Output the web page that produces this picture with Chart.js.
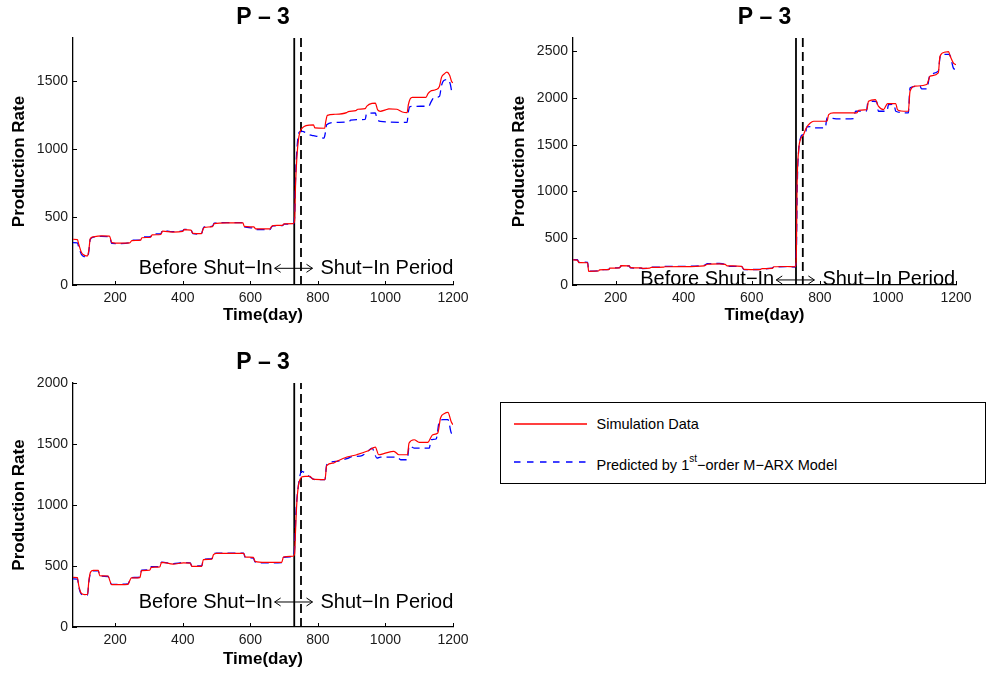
<!DOCTYPE html>
<html><head><meta charset="utf-8">
<script src="https://cdn.jsdelivr.net/npm/chart.js@4.4.0/dist/chart.umd.min.js"></script>
<style>
html,body{margin:0;padding:0;background:#fff;width:987px;height:673px;overflow:hidden;font-family:'Liberation Sans',Arial,Helvetica,sans-serif;}
canvas{position:absolute;}
#legend{position:absolute;left:500px;top:402px;width:486px;height:82px;box-sizing:border-box;border:1.5px solid #000;background:#fff;}
#legend canvas{position:absolute;left:13px;top:0;}
#legend .tx{position:absolute;left:95.5px;height:20px;line-height:20px;font-size:14.5px;color:#000;white-space:nowrap;}
#legend sup{font-size:10px;position:relative;top:-2px;}
</style></head>
<body>
<canvas id="c1" width="480" height="336" style="left:0;top:0"></canvas>
<canvas id="c2" width="497" height="336" style="left:490px;top:0"></canvas>
<canvas id="c3" width="480" height="333" style="left:0;top:340px"></canvas>
<div id="legend">
  <canvas id="lg" width="76" height="78"></canvas>
  <div class="tx" style="top:10.5px">Simulation Data</div>
  <div class="tx" style="top:48px">Predicted by 1<sup>st</sup>−order M−ARX Model</div>
</div>
<script>
// ---------- data ----------
const xTicks = [200, 400, 600, 800, 1000, 1200];
const shutInDay = 730;
const predStartDay = 750;

// Panel 1
const p1YTicks = [0, 500, 1000, 1500];
const p1SimDays = [75,88,92,100,110,118,122,126,135,160,183,190,215,243,249,275,279,305,309,335,340,370,400,404,424,430,455,460,464,488,493,530,578,582,610,616,658,663,668,695,700,727,731,734,738,743,748,755,765,787,791,820,823,828,850,885,890,912,918,940,945,960,970,977,985,1000,1010,1034,1050,1064,1068,1073,1080,1120,1126,1133,1150,1160,1166,1174,1182,1190,1196,1200];
const p1SimRate = [337,335,300,240,218,214,260,340,355,362,360,312,308,310,327,330,348,352,369,372,397,390,395,408,405,380,378,410,425,430,452,458,458,432,428,414,414,432,438,440,450,452,470,750,948,1080,1135,1160,1174,1180,1158,1155,1200,1250,1258,1270,1278,1285,1295,1300,1318,1338,1340,1290,1280,1290,1298,1295,1275,1270,1330,1370,1383,1383,1410,1428,1440,1465,1530,1555,1568,1545,1500,1490];
const p1PredDays = [75,88,92,100,110,118,122,126,135,160,183,190,215,243,249,275,279,305,309,335,340,370,400,404,424,430,455,460,464,488,493,530,578,582,610,616,658,663,668,695,700,727,731,734,738,743,748,755,762,770,787,800,818,822,826,850,880,893,897,915,940,944,970,975,985,1064,1068,1073,1128,1135,1143,1160,1166,1172,1185,1192,1196,1200];
const p1PredRate = [312,310,280,225,208,205,250,335,352,358,356,306,305,312,330,333,352,357,375,378,402,393,398,410,407,378,375,415,428,433,455,460,460,428,420,408,408,428,436,438,448,448,500,800,1000,1118,1130,1132,1125,1112,1100,1095,1082,1120,1180,1198,1200,1205,1215,1218,1220,1262,1268,1225,1205,1198,1280,1315,1318,1350,1378,1390,1470,1505,1514,1480,1430,1416];

// Panel 2
const p2YTicks = [0, 500, 1000, 1500, 2000, 2500];
const p2SimDays = [75,88,92,118,121,150,153,180,184,212,216,240,244,275,280,300,305,340,345,400,460,470,505,522,528,570,577,625,630,660,665,700,727,731,733,738,743,752,760,772,782,821,826,840,909,914,938,943,963,972,987,999,1023,1028,1038,1060,1065,1080,1114,1124,1148,1153,1168,1178,1183,1192,1200];
const p2SimRate = [268,266,240,238,145,150,162,165,180,183,207,205,186,182,178,180,188,190,195,197,205,222,225,220,205,200,168,165,175,178,195,198,195,300,1018,1446,1554,1607,1679,1732,1750,1750,1821,1839,1839,1868,1875,1964,1982,1911,1875,1939,1939,1875,1860,1857,2071,2125,2143,2232,2268,2446,2489,2495,2446,2375,2355];
const p2PredDays = [75,88,92,118,121,150,153,180,184,212,216,240,244,275,280,300,305,340,345,400,460,470,505,522,528,570,577,625,630,660,665,700,727,731,734,738,744,748,757,762,775,782,816,821,855,880,899,905,937,941,957,967,972,997,1002,1018,1023,1060,1065,1094,1099,1114,1124,1148,1153,1160,1178,1183,1192,1200];
const p2PredRate = [272,270,245,242,148,152,160,168,182,186,205,203,182,180,176,182,190,192,198,200,210,228,230,218,200,198,165,168,172,180,192,196,192,350,1100,1446,1580,1605,1607,1689,1692,1679,1679,1786,1775,1775,1778,1857,1860,1946,1964,1960,1857,1857,1929,1930,1857,1839,2107,2125,2096,2096,2250,2286,2430,2464,2464,2450,2321,2300];

// Panel 3
const p3YTicks = [0, 500, 1000, 1500, 2000];
const p3SimDays = [75,88,92,100,110,118,122,127,135,150,154,179,184,189,238,243,248,273,278,302,307,332,337,372,402,422,427,456,461,486,491,500,580,585,609,614,644,693,698,718,727,731,734,737,742,752,762,777,785,821,826,846,856,886,915,945,965,970,980,995,1025,1040,1065,1070,1085,1100,1125,1140,1155,1163,1175,1185,1195,1200];
const p3SimRate = [407,405,340,275,265,268,380,450,464,464,421,418,380,347,350,380,402,405,462,465,489,492,530,516,525,524,497,497,552,556,593,604,604,574,570,538,530,530,574,579,580,600,800,989,1153,1229,1235,1235,1212,1208,1322,1344,1358,1393,1412,1440,1470,1475,1412,1421,1440,1412,1412,1508,1535,1513,1513,1576,1590,1713,1750,1759,1680,1658];
const p3PredDays = [75,88,92,100,110,118,122,127,135,150,154,179,184,189,238,243,248,273,278,302,307,332,337,372,402,422,427,456,461,486,491,500,580,585,609,614,644,693,698,718,727,731,735,742,752,762,777,791,821,826,856,886,906,925,945,960,975,985,1035,1045,1065,1070,1085,1130,1135,1150,1160,1170,1185,1195,1200];
const p3PredRate = [395,393,330,268,262,262,370,445,460,460,418,414,375,350,354,385,405,408,465,468,494,496,532,520,528,526,500,500,555,560,596,606,606,570,565,534,525,527,570,576,578,650,934,1153,1276,1262,1229,1208,1208,1330,1358,1380,1399,1400,1431,1467,1385,1393,1393,1371,1371,1486,1467,1467,1535,1541,1691,1699,1699,1590,1580];

// ---------- rendering ----------
const FAMILY = "'Liberation Sans', Arial, Helvetica, sans-serif";
const SIM_COLOR = '#ff0000';
const PRED_COLOR = '#0000ff';
const pts = (xs, ys) => xs.map((d, i) => ({x: d, y: ys[i]}));

const panelDecor = {
  id: 'panelDecor',
  afterDraw(chart, args, o) {
    const {ctx, chartArea: a, scales: {x, y}} = chart;
    ctx.save();
    ctx.strokeStyle = '#000';
    ctx.lineWidth = 1;
    x.ticks.forEach(t => {
      const px = Math.round(x.getPixelForValue(t.value)) + 0.5;
      ctx.beginPath(); ctx.moveTo(px, a.bottom); ctx.lineTo(px, a.bottom - 4); ctx.stroke();
    });
    y.ticks.forEach(t => {
      const py = Math.round(y.getPixelForValue(t.value)) + 0.5;
      ctx.beginPath(); ctx.moveTo(a.left, py); ctx.lineTo(a.left + 4, py); ctx.stroke();
    });
    ctx.fillStyle = '#000';
    ctx.font = 'bold 23px ' + FAMILY;
    ctx.textAlign = 'center';
    ctx.textBaseline = 'middle';
    ctx.fillText(o.title, (a.left + a.right) / 2, a.top - 20);
    const ly = y.getPixelForValue(o.labelValue);
    const xl = x.getPixelForValue(o.arrowFrom);
    const xr = x.getPixelForValue(o.arrowTo);
    ctx.font = '20px ' + FAMILY;
    ctx.textAlign = 'right';
    ctx.fillText(o.leftText, xl - 2, ly);
    ctx.textAlign = 'left';
    ctx.fillText(o.rightText, xr + 8, ly);
    ctx.lineWidth = 1;
    ctx.beginPath();
    ctx.moveTo(xl, ly); ctx.lineTo(xr, ly);
    ctx.moveTo(xl + 6, ly - 4); ctx.lineTo(xl, ly); ctx.lineTo(xl + 6, ly + 4);
    ctx.moveTo(xr - 6, ly - 4); ctx.lineTo(xr, ly); ctx.lineTo(xr - 6, ly + 4);
    ctx.stroke();
    ctx.restore();
  }
};

function makePanel(id, canvasW, canvasH, area, yMax, yTicks, simXY, predXY, labelValue, yTitlePad, xTitlePad) {
  const ctx = document.getElementById(id);
  return new Chart(ctx, {
    type: 'line',
    data: {
      datasets: [
        {label: 'Simulation Data', data: simXY, borderColor: SIM_COLOR, borderWidth: 1.2, pointRadius: 0, cubicInterpolationMode: 'monotone', order: 0},
        {label: 'Predicted by 1st-order M-ARX Model', data: predXY, borderColor: PRED_COLOR, borderWidth: 1.3, borderDash: [8, 5], pointRadius: 0, cubicInterpolationMode: 'monotone', order: 1},
        {label: 'shut-in', data: [{x: shutInDay, y: 0}, {x: shutInDay, y: yMax}], borderColor: '#000', borderWidth: 1.8, pointRadius: 0, order: 2},
        {label: 'prediction start', data: [{x: predStartDay, y: 0}, {x: predStartDay, y: yMax}], borderColor: '#000', borderWidth: 1.8, borderDash: [9, 5], pointRadius: 0, order: 2}
      ]
    },
    options: {
      responsive: false,
      animation: false,
      events: [],
      layout: {padding: {left: 0, top: area.top, right: canvasW - area.right, bottom: 0}},
      plugins: {
        legend: {display: false},
        tooltip: {enabled: false},
        title: {display: false},
        panelDecor: {title: 'P – 3', labelValue: labelValue, arrowFrom: 672, arrowTo: 784,
                     leftText: 'Before Shut−In', rightText: 'Shut−In Period'}
      },
      scales: {
        x: {
          type: 'linear', min: 75, max: 1200,
          afterBuildTicks: s => { s.ticks = xTicks.map(v => ({value: v})); },
          afterFit: s => { s.height = canvasH - area.bottom; },
          grid: {display: false, drawTicks: false},
          border: {display: true, color: '#000', width: 1.3},
          ticks: {font: {size: 14, family: FAMILY}, color: '#1a1a1a', padding: 5, maxRotation: 0, autoSkip: false, callback: v => String(v)},
          title: {display: true, text: 'Time(day)', color: '#000', font: {size: 17, weight: 'bold', family: FAMILY}, padding: {top: 0, bottom: xTitlePad}}
        },
        y: {
          type: 'linear', min: 0, max: yMax,
          afterBuildTicks: s => { s.ticks = yTicks.map(v => ({value: v})); },
          afterFit: s => { s.width = area.left; },
          grid: {display: false, drawTicks: false},
          border: {display: true, color: '#000', width: 1.3},
          ticks: {font: {size: 14, family: FAMILY}, color: '#1a1a1a', padding: 5, autoSkip: false, callback: v => String(v)},
          title: {display: true, text: 'Production Rate', color: '#000', font: {size: 17, weight: 'bold', family: FAMILY}, padding: {top: yTitlePad, bottom: 0}}
        }
      }
    },
    plugins: [panelDecor]
  });
}

makePanel('c1', 480, 336, {left: 73, top: 38, right: 453, bottom: 285}, 1820, p1YTicks,
          pts(p1SimDays, p1SimRate), pts(p1PredDays, p1PredRate), 123, 9, 10);
makePanel('c2', 497, 336, {left: 83, top: 38, right: 466, bottom: 285}, 2640, p2YTicks,
          pts(p2SimDays, p2SimRate), pts(p2PredDays, p2PredRate), 54, 19, 10);
makePanel('c3', 480, 333, {left: 73, top: 43, right: 453, bottom: 287}, 2000, p3YTicks,
          pts(p3SimDays, p3SimRate), pts(p3PredDays, p3PredRate), 205, 9, 3.5);

// legend line samples
(function () {
  const g = document.getElementById('lg').getContext('2d');
  g.lineWidth = 1.6;
  g.strokeStyle = SIM_COLOR;
  g.beginPath(); g.moveTo(0, 21); g.lineTo(73, 21); g.stroke();
  g.strokeStyle = PRED_COLOR;
  g.setLineDash([6.5, 6.5]);
  g.beginPath(); g.moveTo(0, 59); g.lineTo(73, 59); g.stroke();
})();
</script>
</body></html>
